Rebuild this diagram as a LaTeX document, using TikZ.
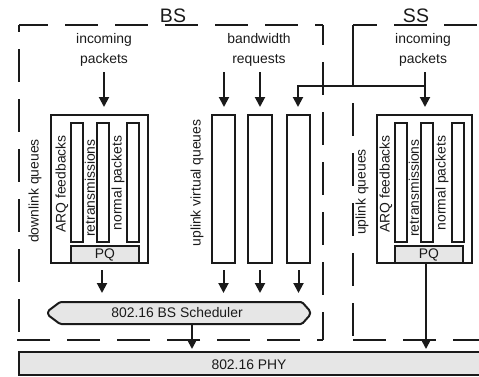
\documentclass[tikz,border=0pt]{standalone}
\usepackage{fontspec}
\setmainfont{Liberation Sans}
\usetikzlibrary{arrows.meta}
\definecolor{boxfill}{HTML}{E6E6E6}
\definecolor{ink}{HTML}{1A1A1A}
\begin{document}
\begin{tikzpicture}[x=1pt,y=-1pt,
  every node/.style={font=\fontsize{13.9}{20}\selectfont, text=ink, inner sep=0pt, outer sep=0pt},
  rectbox/.style={draw=ink, line width=2pt, rectangle, inner sep=0pt, outer sep=0pt},
  grayfill/.style={fill=boxfill},
  arr/.style={draw=ink, line width=2pt, -{Triangle[length=10pt,width=10pt]}},
  conn/.style={draw=ink, line width=2pt},
  dashln/.style={draw=ink, line width=2.6pt, dash pattern=on 33pt off 17pt},
  vlabel/.style={rotate=90},
  titlelbl/.style={font=\fontsize{19.5}{22}\selectfont, anchor=base}]
\useasboundingbox (0,0) rectangle (479,376);
\clip (0,0) rectangle (479,376);

% ---------- dashed domain frames ----------
\coordinate (bsTL) at (19,25);
\coordinate (bsTR) at (323,25);
\coordinate (bsBR) at (323,340);
\coordinate (bsBL) at (15,340);
\coordinate (bsLB) at (19,340);
\draw[dashln, dash phase=4pt] (bsTL) -- (bsTR);
\draw[dashln, dash phase=13pt] (bsTR) -- (bsBR);
\draw[dashln, dash phase=26pt] (bsTL) -- (bsLB);
\draw[dashln, dash phase=27pt] (bsBR) -- (bsBL);

\coordinate (ssTL) at (353,25);
\coordinate (ssTR) at (490,25);
\coordinate (ssJ) at (353,86);
\coordinate (ssBL) at (353,340);
\coordinate (ssBR) at (490,340);
\draw[dashln, dash phase=9pt] (ssTL) -- (ssTR);
\draw[draw=ink, line width=2.6pt] (ssTL) -- (ssJ);
\draw[dashln, dash phase=33pt] (ssJ) -- (ssBL);
\draw[dashln] (ssBL) -- (ssBR);

\node[titlelbl] (bsl) at (173,22) {BS};
\node[titlelbl] (ssl) at (416,22) {SS};

% ---------- top labels ----------
\node[align=center] (inBS) at (104,50) {incoming\\packets};
\node[align=center] (bwr) at (259,50) {bandwidth\\requests};
\node[align=center] (inSS) at (423,50) {incoming\\packets};

% ---------- BS downlink queues ----------
\node[rectbox, minimum width=97pt, minimum height=148pt] (dlq) at (99.5,189) {};
\node[rectbox, minimum width=12pt, minimum height=119pt] (bc1) at (77,182.5) {};
\node[rectbox, minimum width=12pt, minimum height=119pt] (bc2) at (103,182.5) {};
\node[rectbox, minimum width=12pt, minimum height=119pt] (bc3) at (133,182.5) {};
\node[rectbox, grayfill, minimum width=68pt, minimum height=17pt] (bpq) at (105,254.5) {PQ};
\node[vlabel] (lArqB) at (62,184) {ARQ feedbacks};
\node[vlabel] (lRetB) at (90,188) {retransmissions};
\node[vlabel] (lNorB) at (118,183) {normal packets};
\node[vlabel] (lDown) at (35,191) {downlink queues};

% ---------- BS uplink virtual queues ----------
\node[rectbox, minimum width=23pt, minimum height=148pt] (u1) at (223.5,189) {};
\node[rectbox, minimum width=24pt, minimum height=148pt] (u2) at (260,189) {};
\node[rectbox, minimum width=23pt, minimum height=148pt] (u3) at (298.5,189) {};
\node[vlabel] (lUv) at (197,183) {uplink virtual queues};

% ---------- SS uplink queues ----------
\node[rectbox, minimum width=95pt, minimum height=148pt] (ssq) at (424.5,189) {};
\node[rectbox, minimum width=12pt, minimum height=119pt] (sc1) at (401,182.5) {};
\node[rectbox, minimum width=12pt, minimum height=119pt] (sc2) at (427,182.5) {};
\node[rectbox, minimum width=12pt, minimum height=119pt] (sc3) at (457.5,182.5) {};
\node[rectbox, grayfill, minimum width=68pt, minimum height=17pt] (spq) at (429,254.5) {PQ};
\node[vlabel] (lArqS) at (386,184) {ARQ feedbacks};
\node[vlabel] (lRetS) at (414,188) {retransmissions};
\node[vlabel] (lNorS) at (442,183) {normal packets};
\node[vlabel] (lUpq) at (362,192) {uplink queues};

% ---------- scheduler and PHY ----------
\draw[draw=ink, line width=2pt, fill=boxfill, rounded corners=1.5pt]
  (60,302) -- (302,302) -- (310,311) -- (310,315) -- (302,324) -- (60,324) -- (48,315) -- (48,311) -- cycle;
\node (sched) at (177,313) {802.16 BS Scheduler};
\node[rectbox, grayfill, minimum width=471pt, minimum height=23pt] (phy) at (254.5,363.5) {};
\node (phyt) at (249,365) {802.16 PHY};

% ---------- connectors ----------
\coordinate (a1s) at (104,72);  \coordinate (a1e) at (104,107);
\coordinate (a2s) at (224,72);  \coordinate (a2e) at (224,107);
\coordinate (a3s) at (260,72);  \coordinate (a3e) at (260,107);
\coordinate (a4s) at (425,72);  \coordinate (a4e) at (425,107);
\coordinate (bwJ) at (425,86);
\coordinate (bwC) at (298,86);  \coordinate (bwE) at (298,107);
\draw[arr] (a1s) -- (a1e);
\draw[arr] (a2s) -- (a2e);
\draw[arr] (a3s) -- (a3e);
\draw[arr] (a4s) -- (a4e);
\draw[arr] (bwJ) -- (bwC) -- (bwE);

\coordinate (d1s) at (102,270);   \coordinate (d1e) at (102,293);
\coordinate (d2s) at (223.5,270); \coordinate (d2e) at (223.5,293);
\coordinate (d3s) at (260,270);   \coordinate (d3e) at (260,293);
\coordinate (d4s) at (298.5,270); \coordinate (d4e) at (298.5,293);
\draw[arr] (d1s) -- (d1e);
\draw[arr] (d2s) -- (d2e);
\draw[arr] (d3s) -- (d3e);
\draw[arr] (d4s) -- (d4e);

\coordinate (s1s) at (192,324);   \coordinate (s1e) at (192,349);
\coordinate (s2s) at (426,264);   \coordinate (s2e) at (426,349);
\draw[arr] (s1s) -- (s1e);
\draw[arr] (s2s) -- (s2e);
\end{tikzpicture}
\end{document}
